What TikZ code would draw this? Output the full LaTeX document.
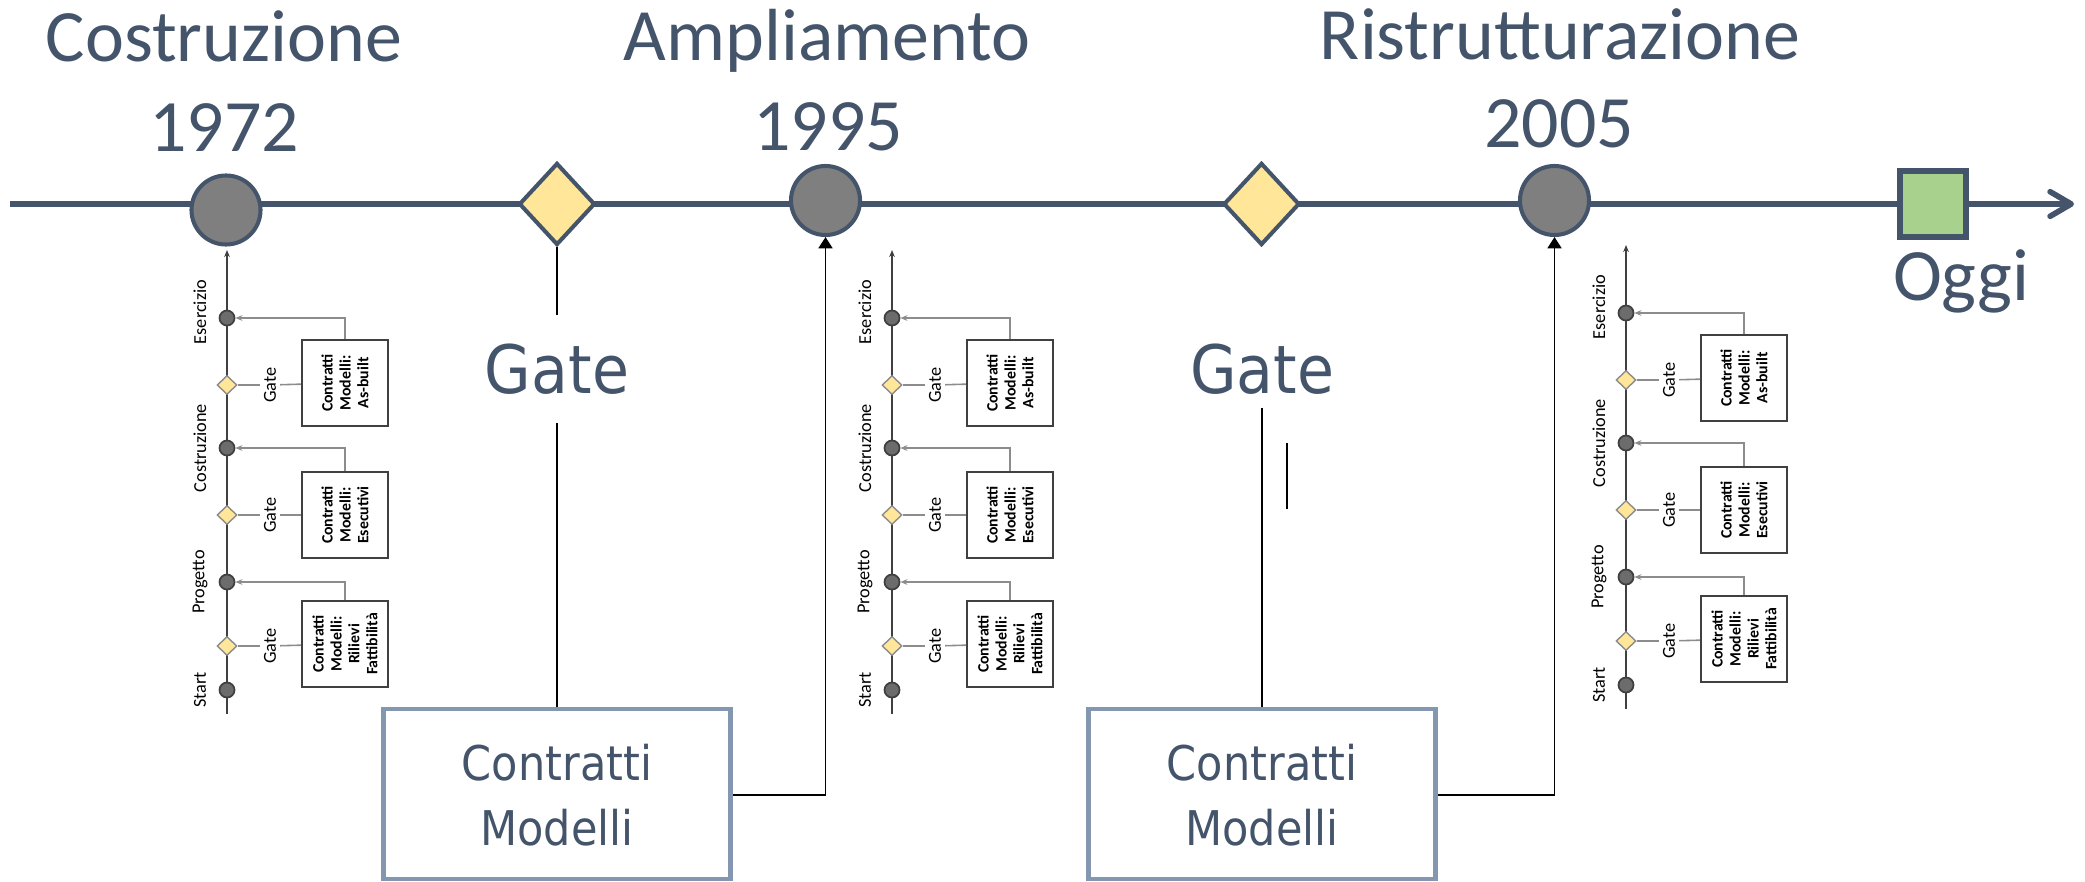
\documentclass[tikz,border=0pt]{standalone}
\usepackage{fontspec}
\setmainfont{Carlito}
\newfontfamily\widesans[FakeStretch=0.9]{DejaVu Sans}
\usepackage{xcolor}
\usetikzlibrary{arrows.meta,shapes.geometric}

\definecolor{axisblue}{HTML}{44546A}
\definecolor{milegray}{HTML}{7F7F7F}
\definecolor{gateyellow}{HTML}{FFE699}
\definecolor{todaygreen}{HTML}{A9D18E}
\definecolor{boxblue}{HTML}{8497B0}
\definecolor{minidark}{HTML}{404040}
\definecolor{minigray}{HTML}{8C8C8C}

\begin{document}
\begin{tikzpicture}[
  x=0.01cm, y=-0.01cm,
  bigtxt/.style = {font=\fontsize{21}{25}\selectfont, text=axisblue, inner sep=0pt},
  milestone/.style = {circle, draw=axisblue, line width=1.15pt, fill=milegray,
                      minimum size=0.69cm, inner sep=0pt},
  gatemark/.style = {diamond, draw=axisblue, line width=1.15pt, fill=gateyellow,
                     minimum width=0.76cm, minimum height=0.82cm, inner sep=0pt},
  todaymark/.style = {rectangle, draw=axisblue, line width=1.7pt, fill=todaygreen,
                      minimum size=0.66cm, inner sep=0pt},
  gatetxt/.style = {font=\widesans\fontsize{19}{22}\selectfont, text=axisblue, inner sep=8pt},
  cbox/.style = {draw=boxblue, line width=1.25pt, minimum width=3.47cm, minimum height=1.70cm},
  ctxt/.style = {font=\widesans\fontsize{13.6}{18.6}\selectfont, text=axisblue,
                 align=center, inner sep=0pt},
  gline/.style = {line width=0.6pt, black},
  arr/.style = {-{Triangle[length=3.2pt, width=4pt]}, line width=0.4pt, black},
  % small timelines
  mline/.style = {line width=0.5pt, minidark},
  mstone/.style = {circle, draw=minidark, line width=0.5pt, fill=milegray!85!black,
                   minimum size=0.15cm, inner sep=0pt},
  mgate/.style = {diamond, draw=minigray, line width=0.4pt, fill=gateyellow,
                  minimum width=0.2cm, minimum height=0.19cm, inner sep=0pt},
  mlabel/.style = {rotate=90, font=\fontsize{5.2}{6}\selectfont, inner sep=1pt},
  mbox/.style = {draw=minidark, line width=0.6pt, minimum size=0.86cm, rotate=90,
                 align=center, font=\bfseries\fontsize{4.5}{5.1}\selectfont, inner sep=1pt},
  mconn/.style = {line width=0.45pt, minigray},
  marr/.style = {-{Stealth[length=2pt, width=1.6pt]}, line width=0.45pt, minigray},
]
\useasboundingbox (0,0) rectangle (2085,882);

% main axis
\coordinate (ax0) at (10,204);
\coordinate (ax1) at (2074,204);
\draw[line width=1.6pt, axisblue, -{Straight Barb[length=6pt, width=7pt, round]}] (ax0) -- (ax1);

\node[milestone] at (226,210)     (m1) {};
\node[milestone] at (825.5,200.5) (m2) {};
\node[milestone] at (1554.5,200.5) (m3) {};
\node[gatemark]  at (557,204)     (d1) {};
\node[gatemark]  at (1261.5,204)  (d2) {};
\node[todaymark] at (1933,204)    (today) {};

\node[bigtxt, anchor=base] at (224,62)  (t1) {Costruzione};
\node[bigtxt, anchor=base] at (224,152) (y1) {1972};
\node[bigtxt, anchor=base] at (827,61)  (t2) {Ampliamento};
\node[bigtxt, anchor=base] at (828,150) (y2) {1995};
\node[bigtxt, anchor=base] at (1560,60) (t3) {Ristrutturazione};
\node[bigtxt, anchor=base] at (1559,148) (y3) {2005};
\node[bigtxt, anchor=base] at (1961,300) (oggi) {Oggi};

\node[gatetxt, anchor=base] at (557,393)  (g1) {Gate};
\node[gatetxt, anchor=base] at (1262,393) (g2) {Gate};

\node[cbox] at (557,794)  (c1) {};
\node[ctxt] at (557,795)  (ct1) {Contratti\\Modelli};
\node[cbox] at (1262,794) (c2) {};
\node[ctxt] at (1262,795) (ct2) {Contratti\\Modelli};

\draw[gline] (d1) -- (g1);
\draw[gline] (g1) -- (c1);
\draw[gline] ([yshift=4.3pt]g2.south) -- (c2);
\coordinate (s1) at (1287,443);
\coordinate (s2) at (1287,509);
\draw[gline] (s1) -- (s2);

\draw[arr] (c1.east |- ct1) -| (m2);
\draw[arr] (c2.east |- ct2) -| (m3);

% small phase timelines
\foreach \x/\dy/\n in {227/0/a, 892/0/b, 1626/-5/c} {
  \begin{scope}[shift={(\x,\dy)}]
    \coordinate (\n-bot) at (0,714);
    \coordinate (\n-top) at (0,250);
    \draw[mline, -{Stealth[length=2pt, width=1.6pt]}] (\n-bot) -- (\n-top);
    \node[mstone] at (0,690) (\n-s) {};
    \node[mstone] at (0,582) (\n-p) {};
    \node[mstone] at (0,448) (\n-c) {};
    \node[mstone] at (0,318) (\n-e) {};
    \node[mlabel] at (-27,690) (\n-ls) {Start};
    \node[mlabel] at (-27,582) (\n-lp) {Progetto};
    \node[mlabel] at (-27,448) (\n-lc) {Costruzione};
    \node[mlabel] at (-27,312) (\n-le) {Esercizio};
    \node[mbox] at (118,644) (\n-b1) {Contratti\\Modelli:\\Rilievi\\Fattibilità};
    \node[mbox] at (118,515) (\n-b2) {Contratti\\Modelli:\\Esecutivi};
    \node[mbox] at (118,383) (\n-b3) {Contratti\\Modelli:\\As-built};
    \foreach \k/\gy in {1/646, 2/515, 3/385} {
      \node[mgate] at (0,\gy) (\n-g\k) {};
      \node[mlabel] at (43,\gy) (\n-gl\k) {Gate};
      \draw[mconn] (\n-g\k) -- (\n-gl\k);
      \draw[mconn] (\n-gl\k) -- (\n-b\k);
    }
    \draw[marr] (\n-b1) |- (\n-p);
    \draw[marr] (\n-b2) |- (\n-c);
    \draw[marr] (\n-b3) |- (\n-e);
  \end{scope}
}
\end{tikzpicture}
\end{document}
